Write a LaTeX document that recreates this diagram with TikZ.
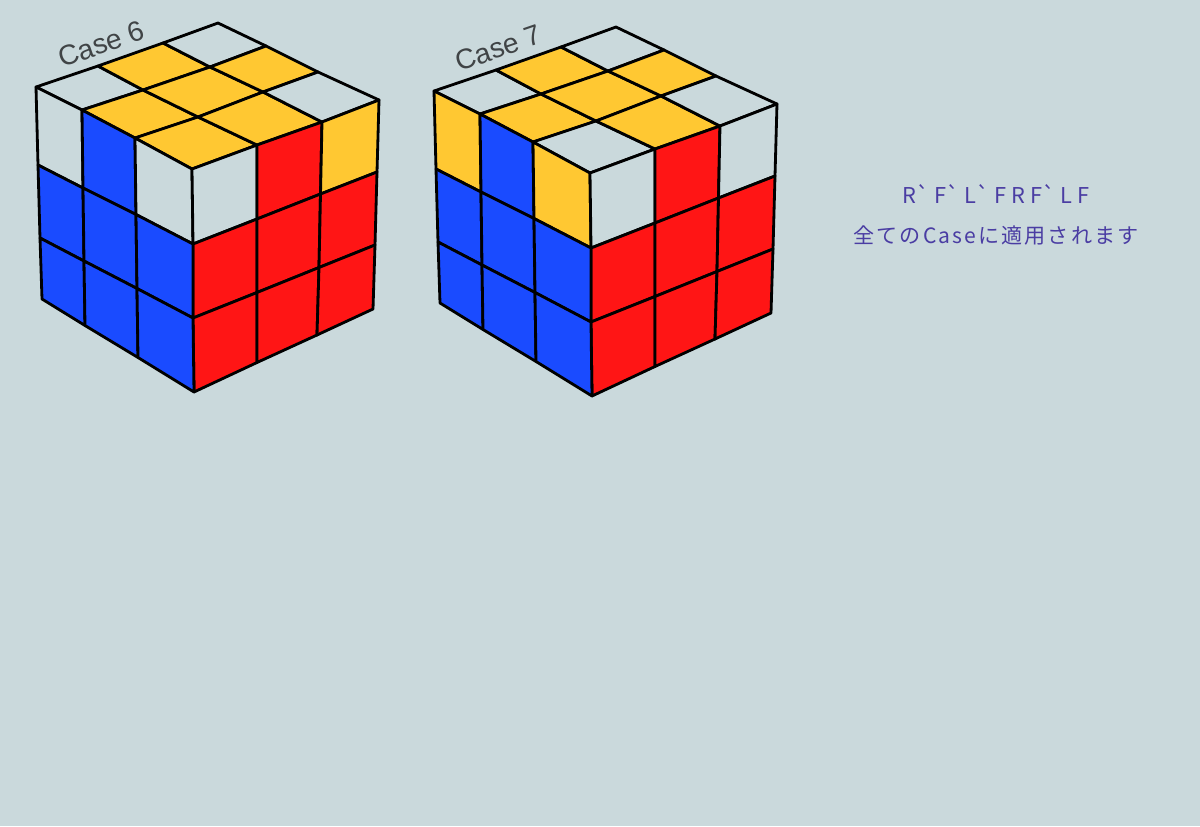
\documentclass[tikz,border=0pt]{standalone}
\usepackage{fontspec}
\setmainfont{Liberation Sans}
\newfontfamily\jpfont{Noto Sans CJK JP}
\newfontfamily\jpwide[LetterSpace=10]{Noto Sans CJK JP}
\definecolor{bgcol}{HTML}{CAD9DC}
\definecolor{yelcol}{HTML}{FFC832}
\definecolor{blucol}{HTML}{1A4BFF}
\definecolor{redcol}{HTML}{FF1515}
\definecolor{inkcol}{HTML}{4A3DA3}
\definecolor{casecol}{HTML}{404446}
\newcommand{\sticker}[4]{
  \pgfmathtruncatemacro{\nx}{#2+1}
  \pgfmathtruncatemacro{\ny}{#3+1}
  \path[cell,#4] (#1-#2-#3) -- (#1-\nx-#3) -- (#1-\nx-\ny) -- (#1-#2-\ny) -- cycle;
}
\newcommand{\rubik}[4]{
\begin{scope}[shift={(#1)}]
  % top face
  \foreach \ai/\aii/\px/\py in {0/0/36/87,0/1/82/110,0/2/135/138,0/3/192/169,
    1/0/98/66,1/1/143/90,1/2/198/117,1/3/257/145,
    2/0/163/43,2/1/210/67,2/2/263/92,2/3/322/122,
    3/0/218/23,3/1/266/46,3/2/318/72,3/3/379/100}
    \coordinate (t-\ai-\aii) at (\px,\py);
  % left face
  \foreach \ai/\aii/\px/\py in {0/0/36/87,0/1/38/165,0/2/40/238,0/3/42/299,
    1/0/82/110,1/1/83/188,1/2/84/261,1/3/85/325.5,
    2/0/135/138,2/1/136/214.5,2/2/137/288.5,2/3/138/357.5,
    3/0/192/169,3/1/193/244,3/2/193/318,3/3/194/392}
    \coordinate (l-\ai-\aii) at (\px,\py);
  % right face
  \foreach \ai/\aii/\px/\py in {0/0/192/169,0/1/193/244,0/2/193/318,0/3/194/392,
    1/0/257/145,1/1/257/219,1/2/257/292.5,1/3/257/362.5,
    2/0/322/122,2/1/320.5/194,2/2/319/267.5,2/3/317/335,
    3/0/379/100,3/1/377/172,3/2/375/245,3/3/373/309}
    \coordinate (r-\ai-\aii) at (\px,\py);
  \foreach \ai/\aii/\col in {#2}
    \sticker{t}{\ai}{\aii}{\col};
  \foreach \ai/\col in {#3}
    \sticker{l}{\ai}{0}{\col};
  \foreach \ai/\col in {#4}
    \sticker{r}{\ai}{0}{\col};
  \foreach \ai in {0,1,2}
  {\foreach \aii in {1,2}
    {\sticker{l}{\ai}{\aii}{blu}
     \sticker{r}{\ai}{\aii}{rd}}
  }
\end{scope}
}
\begin{document}
\begin{tikzpicture}[
x=0.02cm,
y=-0.02cm,
cell/.style={
  draw=black,
  line width=1.6pt,
  line join=round
  },
yel/.style={fill=yelcol},
blu/.style={fill=blucol},
rd/.style={fill=redcol},
wht/.style={fill=bgcol},
casetag/.style={
  text=casecol,
  font=\fontsize{16}{18}\selectfont,
  rotate=19,
  inner sep=0pt
  },
movetag/.style={
  text=inkcol,
  inner sep=0pt
  }
]
\useasboundingbox[fill=bgcol] (0,0) rectangle (1200,826);

\rubik{0,0}
  {0/0/wht,1/0/yel,2/0/wht,0/1/yel,1/1/yel,2/1/yel,0/2/yel,1/2/yel,2/2/wht}
  {0/wht,1/blu,2/wht}
  {0/wht,1/rd,2/yel}
\rubik{398,4}
  {0/0/wht,1/0/yel,2/0/wht,0/1/yel,1/1/yel,2/1/yel,0/2/wht,1/2/yel,2/2/wht}
  {0/yel,1/blu,2/yel}
  {0/wht,1/rd,2/wht}

\node[casetag] (case6) at (101,44) {Case 6};
\node[casetag] (case7) at (498,48) {Case 7};

\node[movetag,font=\jpfont\fontsize{12.4}{15}\selectfont] (moves) at (996,194) {R` F` L` F R F` L F};
\node[movetag,font=\jpwide\fontsize{12}{14}\selectfont] (note) at (996,236) {全てのCaseに適用されます};
\end{tikzpicture}
\end{document}
